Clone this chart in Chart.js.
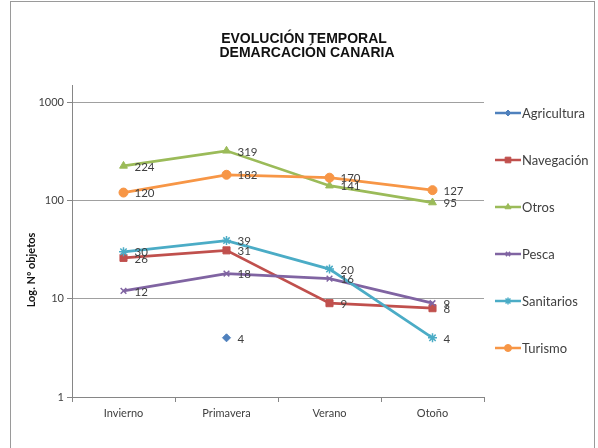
<!DOCTYPE html>
<html>
<head>
<meta charset="utf-8">
<script src="https://cdn.jsdelivr.net/npm/chart.js"></script>
<style>
  html, body { margin: 0; padding: 0; background: #fff; }
  #wrap { width: 598px; height: 448px; }
</style>
</head>
<body>
<div id="wrap"><canvas id="graph_ID" width="598" height="448"></canvas></div>
<script>
    // data
    var estaciones = ['Invierno', 'Primavera', 'Verano', 'Otoño'];
    var agricultura = [null, 4, null, null];
    var navegacion = [26, 31, 9, 8];
    var otros = [224, 319, 141, 95];
    var pesca = [12, 18, 16, 9];
    var sanitarios = [30, 39, 20, 4];
    var turismo = [120, 182, 170, 127];
    var nombres = ['Agricultura', 'Navegación', 'Otros', 'Pesca', 'Sanitarios', 'Turismo'];
    var yTicks = [1, 10, 100, 1000];
    var titulo = ['EVOLUCIÓN TEMPORAL', 'DEMARCACIÓN CANARIA'];
    var tituloY = 'Log. Nº objetos';

    var colores = ['#4F81BD', '#C0504D', '#9BBB59', '#8064A2', '#4BACC6', '#F79646'];
    var estilos = ['rectRot', 'rect', 'triangle', 'crossRot', 'star', 'circle'];
    var radios = [4, 5, 4.5, 4, 4.5, 4.5];
    var series = [agricultura, navegacion, otros, pesca, sanitarios, turismo];

    var gris = '#404040';

    function getSerie(i)
    {
        return {
          label: nombres[i],
          data: series[i],
          order: 6 - i,
          borderColor: colores[i],
          backgroundColor: colores[i],
          borderWidth: 2.75,
          pointStyle: estilos[i],
          pointRadius: radios[i],
          pointBorderWidth: (estilos[i] == 'crossRot' || estilos[i] == 'star') ? 1.5 : 1,
          pointBorderColor: colores[i],
          pointBackgroundColor: colores[i],
          tension: 0,
          spanGaps: false
        };
    }

    // frame, title, y title, legend and data labels
    var decorado = {
      id: 'decorado',
      beforeDraw: function(chart) {
        var ctx = chart.ctx;
        ctx.save();
        ctx.fillStyle = '#fff';
        ctx.fillRect(0, 0, chart.width, chart.height);
        ctx.strokeStyle = '#9a9a9a';
        ctx.lineWidth = 1;
        ctx.strokeRect(10.5, 1.5, 584, 470);
        ctx.restore();
      },
      afterDatasetsDraw: function(chart) {
        var ctx = chart.ctx;
        ctx.save();
        ctx.font = '11.5px Lato';
        ctx.fillStyle = gris;
        ctx.textAlign = 'left';
        ctx.textBaseline = 'middle';
        chart.data.datasets.forEach(function(ds, i) {
          var meta = chart.getDatasetMeta(i);
          meta.data.forEach(function(pt, j) {
            var v = ds.data[j];
            if (v == null) return;
            ctx.fillText(String(v), pt.x + 11, pt.y + 1);
          });
        });
        ctx.restore();
      },
      afterDraw: function(chart) {
        var ctx = chart.ctx;
        ctx.save();
        // title
        ctx.fillStyle = '#111';
        ctx.font = 'bold 14px "Liberation Sans", Arial';
        ctx.textAlign = 'center';
        ctx.textBaseline = 'alphabetic';
        ctx.fillText(titulo[0], 304, 43);
        ctx.fillText(titulo[1], 307, 57);
        // y axis title
        ctx.save();
        ctx.translate(35, 270);
        ctx.rotate(-Math.PI / 2);
        ctx.font = 'bold 11px Lato';
        ctx.textBaseline = 'alphabetic';
        ctx.fillStyle = '#111';
        ctx.fillText(tituloY, 0, 0);
        ctx.restore();
        // legend
        ctx.font = '13px Lato';
        ctx.textAlign = 'left';
        ctx.textBaseline = 'middle';
        for (var i = 0; i < nombres.length; i++) {
          var y = 113 + i * 47;
          ctx.strokeStyle = colores[i];
          ctx.fillStyle = colores[i];
          ctx.lineWidth = 2.5;
          ctx.beginPath();
          ctx.moveTo(495, y);
          ctx.lineTo(521, y);
          ctx.stroke();
          ctx.lineWidth = (estilos[i] == 'crossRot' || estilos[i] == 'star') ? 1.5 : 1;
          Chart.helpers.drawPoint(ctx, {pointStyle: estilos[i], radius: radios[i] - 1, borderWidth: ctx.lineWidth, rotation: 0}, 508, y);
          ctx.fillStyle = gris;
          ctx.fillText(nombres[i], 522, y + 1);
        }
        ctx.restore();
      }
    };

    var options = {
      responsive: false,
      animation: false,
      devicePixelRatio: 1,
      layout: { padding: { left: 0, right: 114, top: 85, bottom: 0 } },
      plugins: {
        legend: { display: false },
        title: { display: false },
        tooltip: { enabled: false }
      },
      scales: {
        x: {
          type: 'category',
          offset: true,
          grid: {
            offset: true,
            drawOnChartArea: false,
            drawTicks: true,
            tickLength: 5,
            color: '#868686'
          },
          border: { color: '#868686' },
          ticks: { color: gris, font: { family: 'Lato', size: 11 }, padding: 5, maxRotation: 0 },
          afterFit: function(scale) { scale.height = 51; }
        },
        y: {
          type: 'logarithmic',
          min: 1,
          max: 1490,
          afterBuildTicks: function(scale) {
            scale.ticks = yTicks.map(function(v) { return { value: v }; });
          },
          ticks: {
            autoSkip: false,
            color: gris,
            font: { family: 'Lato', size: 11 },
            padding: 3,
            callback: function(v) { return String(v); }
          },
          grid: { color: '#a0a0a0', tickLength: 5, tickColor: '#868686' },
          border: { color: '#868686' },
          afterFit: function(scale) { scale.width = 72; }
        }
      }
    };

    var ctx = document.getElementById('graph_ID').getContext('2d');
    var graphique = new Chart(ctx, {
      type: 'line',
      data: {
        labels: estaciones,
        datasets: nombres.map(function(n, i) { return getSerie(i); })
      },
      options: options,
      plugins: [decorado]
    });
</script>
</body>
</html>
